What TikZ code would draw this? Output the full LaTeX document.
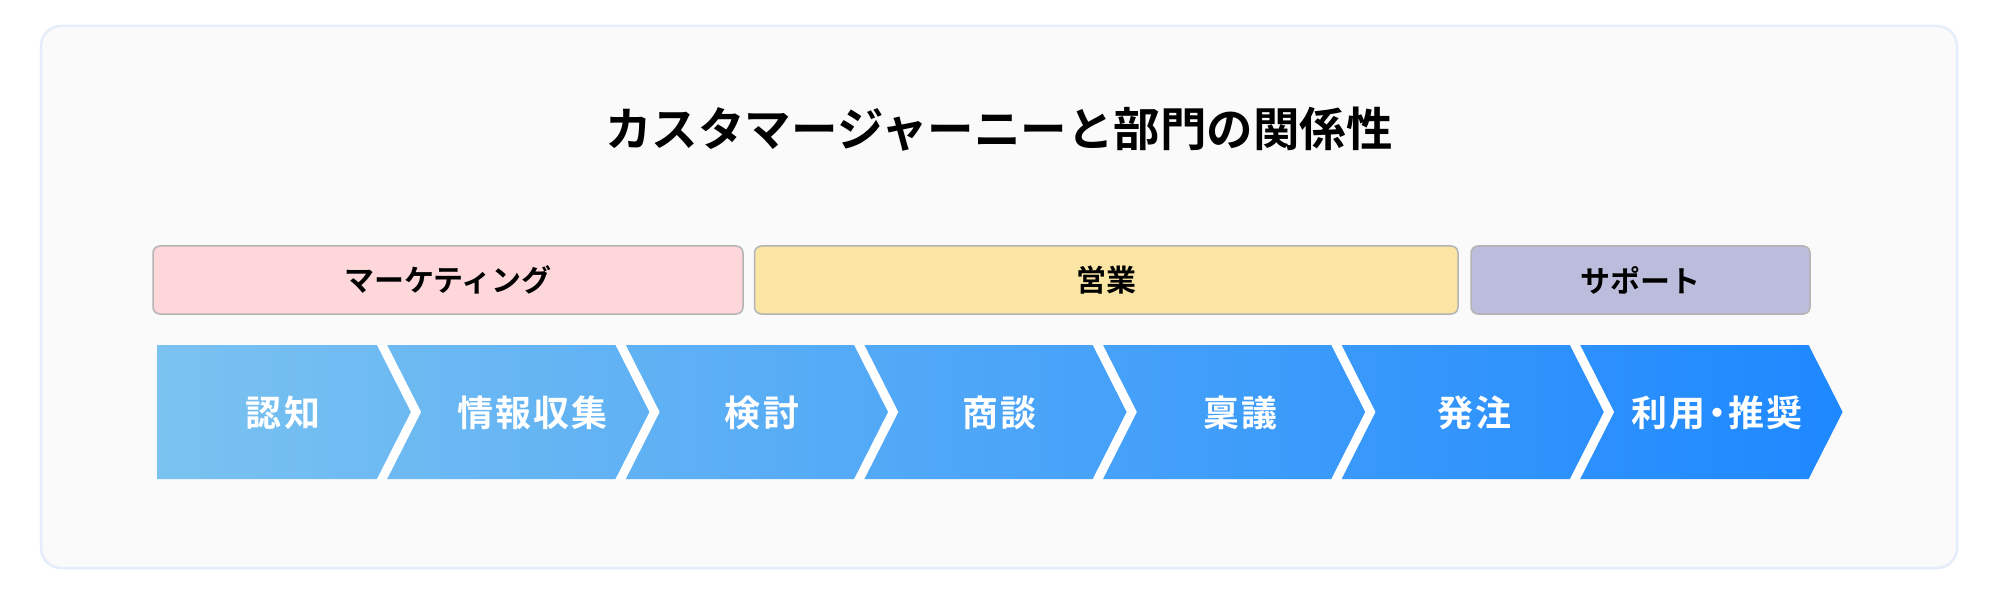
\documentclass[tikz,border=0pt]{standalone}
\usepackage{fontspec}
\newfontfamily\jpfont{Noto Sans CJK JP}[BoldFont={Noto Sans CJK JP Bold}]
\usetikzlibrary{positioning}
\definecolor{panelbg}{HTML}{FAFAFA}
\definecolor{panelline}{HTML}{E4EDF9}
\definecolor{deptline}{HTML}{B3B3B3}
\definecolor{mktfill}{HTML}{FDD7DA}
\definecolor{salesfill}{HTML}{FAE5A5}
\definecolor{supfill}{HTML}{BCBDDC}
\definecolor{stageleft}{HTML}{7AC2F0}
\definecolor{stageright}{HTML}{1E88FF}
\tikzset{font=\jpfont\bfseries}
\tikzset{dept/.style={draw=deptline, line width=1.5pt, rounded corners=7pt, minimum height=68pt, inner sep=0pt, font=\jpfont\bfseries\fontsize{30}{30}\selectfont}}
\tikzset{stagelabel/.style={text=white, inner sep=0pt, font=\jpfont\bfseries\fontsize{36}{36}\selectfont\addfontfeature{LetterSpace=6}}}

\begin{document}
\begin{tikzpicture}[x=1pt,y=-1pt]
  \useasboundingbox (0,0) rectangle (2000,596);
  \fill[white] (0,0) rectangle (2000,596);
  \draw[panelline, fill=panelbg, line width=2.5pt, rounded corners=20pt] (41,26) rectangle (1957,568);

  \node[font=\jpfont\bfseries\fontsize{46.5}{46.5}\selectfont, inner sep=0pt] (title) at (999,129) {カスタマージャーニーと部門の関係性};

  % departments
  \node[dept, fill=mktfill, minimum width=590pt] (mkt) at (448,280) {マーケティング};
  \node[dept, fill=salesfill, minimum width=703.5pt] (sales) at (1106.25,280) {営業};
  \node[dept, fill=supfill, minimum width=339pt] (sup) at (1640.5,280) {サポート};

  % stages
  \shade[left color=stageleft, right color=stageright] (157,345) -- (1808.6,345) -- (1842.6,412) -- (1808.6,479) -- (157,479) -- cycle;
  \begin{scope}
    \clip (157,345) rectangle (1850,479);
    \foreach \k in {0,...,5}{
      \draw[white, line width=9pt] ({379.5+238.6*\k},340) -- ({416+238.6*\k},412) -- ({379.5+238.6*\k},484);
    };
  \end{scope}

  \foreach \x/\name/\txt in {283/aware/認知, 532.6/info/情報収集, 762/consider/検討, 999.7/nego/商談, 1240.8/approve/稟議, 1474.7/order/発注}{
    \node[stagelabel] (\name) at (\x,413) {\txt};
  };
  \node[stagelabel] (use) at (1717,413) {\addfontfeature{RawFeature=+palt}利用・推奨};
\end{tikzpicture}
\end{document}
